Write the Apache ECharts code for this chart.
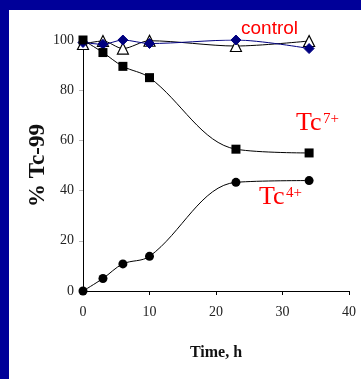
<!DOCTYPE html>
<html>
<head>
<meta charset="utf-8">
<script src="https://cdn.jsdelivr.net/npm/echarts@6/dist/echarts.min.js"></script>
<style>
  html, body { margin: 0; padding: 0; background: #000099; }
  #frame { position: absolute; left: 9px; top: 10px; width: 352px; height: 369px; background: #ffffff; }
  #chart { position: absolute; left: 0; top: 0; width: 361px; height: 379px; }
</style>
</head>
<body>
<div id="frame"></div>
<div id="chart"></div>
<script>
// Sampling times (h)
const timeH = [0, 3, 6, 10, 23, 34];
// Tc(VII) remaining in solution, %
const tc7 = [100, 95, 89.5, 85, 56.5, 55];
// Tc(IV) formed, %
const tc4 = [0, 5, 10.8, 13.8, 43.3, 44];
// Control runs, %
const controlA = [99, 98.3, 100, 98.6, 100, 96.6];
const controlB = [98.4, 99.6, 96.6, 99.7, 97.6, 99.6];
// Axis ticks
const xTicks = [0, 10, 20, 30, 40];
const yTicks = [0, 20, 40, 60, 80, 100];

const pairs = ys => timeH.map((t, i) => [t, ys[i]]);
const serif = '"Liberation Serif", "Times New Roman", serif';

const chart = echarts.init(document.getElementById('chart'), null, { renderer: 'canvas' });

chart.setOption({
  backgroundColor: 'transparent',
  animation: false,
  grid: { left: 83, right: 12, top: 40, bottom: 88, containLabel: false },
  xAxis: {
    type: 'value',
    min: xTicks[0], max: xTicks[xTicks.length - 1], interval: 10,
    name: 'Time, h', nameLocation: 'middle', nameGap: 54, nameMoveOverlap: false,
    nameTextStyle: { fontFamily: serif, fontWeight: 'bold', fontSize: 16, color: '#111' },
    axisLine: { lineStyle: { color: '#000', width: 1 } },
    axisTick: { show: true, length: 4, lineStyle: { color: '#000' } },
    axisLabel: { fontFamily: serif, fontSize: 14, color: '#222', margin: 14 },
    splitLine: { show: false }
  },
  yAxis: {
    type: 'value',
    min: yTicks[0], max: yTicks[yTicks.length - 1], interval: 20,
    name: '% Tc-99', nameLocation: 'middle', nameGap: 33, nameRotate: 90, nameMoveOverlap: false,
    nameTextStyle: { fontFamily: serif, fontWeight: 'bold', fontSize: 23, color: '#111' },
    axisLine: { show: true, lineStyle: { color: '#000', width: 1 } },
    axisTick: { show: true, length: 4, lineStyle: { color: '#bbb' } },
    axisLabel: { fontFamily: serif, fontSize: 14, color: '#222', margin: 9 },
    splitLine: { show: false }
  },
  series: [
    {
      name: 'control B', type: 'line', data: pairs(controlB), smooth: 0.3,
      symbol: 'triangle', symbolSize: 11,
      lineStyle: { color: '#000', width: 1 },
      itemStyle: { color: '#fff', borderColor: '#000', borderWidth: 1.2 }
    },
    {
      name: 'control A', type: 'line', data: pairs(controlA), smooth: 0.3,
      symbol: 'diamond', symbolSize: 10,
      lineStyle: { color: '#000080', width: 1 },
      itemStyle: { color: '#000080', borderColor: '#000080' }
    },
    {
      name: 'Tc7+', type: 'line', data: pairs(tc7), smooth: 0.35,
      symbol: 'rect', symbolSize: 9,
      lineStyle: { color: '#000', width: 1 },
      itemStyle: { color: '#000' }
    },
    {
      name: 'Tc4+', type: 'line', data: pairs(tc4), smooth: 0.35,
      symbol: 'circle', symbolSize: 9,
      lineStyle: { color: '#000', width: 1 },
      itemStyle: { color: '#000' }
    }
  ],
  graphic: [
    { type: 'text', left: 241, top: 19,
      style: { text: 'control', font: '19px "Liberation Sans", Arial, sans-serif', fill: '#ff0000' } },
    { type: 'text', left: 296, top: 110,
      style: { text: 'Tc', font: '26px ' + serif, fill: '#ff0000' } },
    { type: 'text', left: 323, top: 112,
      style: { text: '7+', font: '15px ' + serif, fill: '#ff0000' } },
    { type: 'text', left: 259, top: 184,
      style: { text: 'Tc', font: '26px ' + serif, fill: '#ff0000' } },
    { type: 'text', left: 286, top: 186,
      style: { text: '4+', font: '15px ' + serif, fill: '#ff0000' } }
  ]
});
</script>
</body>
</html>
